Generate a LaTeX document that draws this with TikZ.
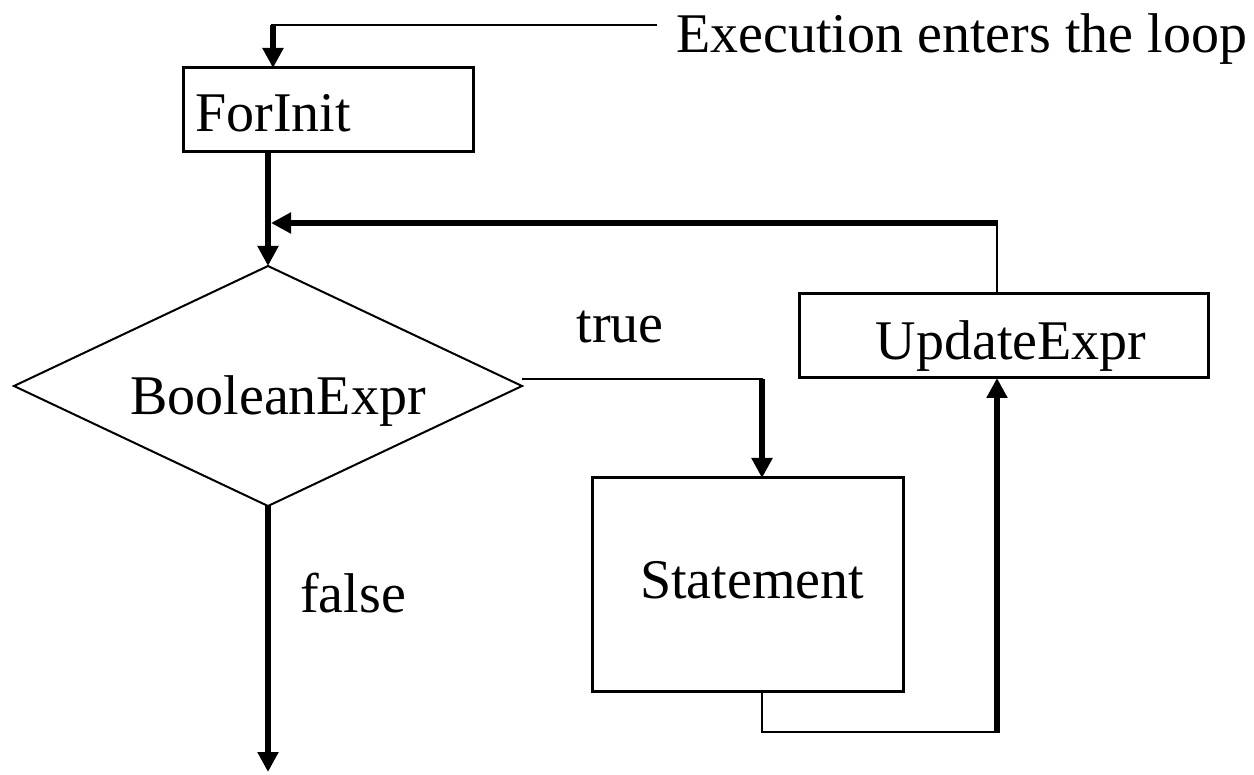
\documentclass[tikz,border=0pt]{standalone}
\usepackage{fontspec}
\setmainfont{Liberation Serif}
\usetikzlibrary{shapes.geometric,arrows.meta}
\begin{document}
\begin{tikzpicture}[x=1pt,y=-1pt,
  boxnode/.style={draw=black,line width=3pt,rectangle,inner sep=0pt,outer sep=0pt},
  txt/.style={font=\fontsize{56}{60}\selectfont,inner sep=0pt,anchor=base},
  thinline/.style={line width=2pt},
  thickline/.style={line width=6pt},
  arr/.style={-{Triangle[length=20pt,width=20pt]}}]
\useasboundingbox (0,0) rectangle (1254,775);
% boxes
\node[boxnode,minimum width=290pt,minimum height=84pt] (forinit) at (328,110) {};
\node[boxnode,minimum width=311pt,minimum height=213pt] (statement) at (747.5,584.5) {};
\node[boxnode,minimum width=409pt,minimum height=84pt] (update) at (1003.5,336) {};
\node[draw=black,line width=2pt,shape=diamond,aspect=2.107,inner sep=0pt,outer sep=0pt,
      minimum width=508pt,minimum height=240pt] (cond) at (268,386) {};
% texts
\node[txt] (tforinit) at (273,132) {ForInit};
\node[txt] (tcond) at (278,415) {BooleanExpr};
\node[txt] (tstate) at (752,598) {Statement};
\node[txt] (tupdate) at (1011,360) {UpdateExpr};
\node[txt] (ttrue) at (620,343) {true};
\node[txt] (tfalse) at (353,612) {false};
\node[txt,anchor=base west] (tentry) at (676,53) {Execution enters the loop};
% coordinates
\coordinate (entry) at (657,25);
\coordinate (corner1) at (273,25);
\coordinate (fb) at (997,223);
\coordinate (fbend) at (268,223);
\coordinate (tr) at (762,379);
\coordinate (bl) at (762,732);
\coordinate (br) at (997,732);
\coordinate (exit) at (268,772);
% entry
\draw[thinline] (entry) -- ([xshift=-2pt]corner1);
\draw[thickline,arr] (corner1) -- (corner1 |- forinit.north);
% forinit to cond
\draw[thickline,arr] (cond.north |- forinit.south) -- (cond.north);
% feedback
\draw[thinline] (fb |- update.north) -- (fb);
\draw[thickline,arr] ([xshift=1pt]fb) -- ([xshift=3pt]fbend);
% true branch
\draw[thinline] (tr -| cond.east) -- ([xshift=1pt]tr);
\draw[thickline,arr] (tr) -- (tr |- statement.north);
% statement to update
\draw[thinline] (bl |- statement.south) -- (bl) -- (br);
\draw[thickline,arr] ([yshift=-1pt]br) -- (br |- update.south);
% false
\draw[thickline,arr] (cond.south) -- (exit);
\end{tikzpicture}
\end{document}
